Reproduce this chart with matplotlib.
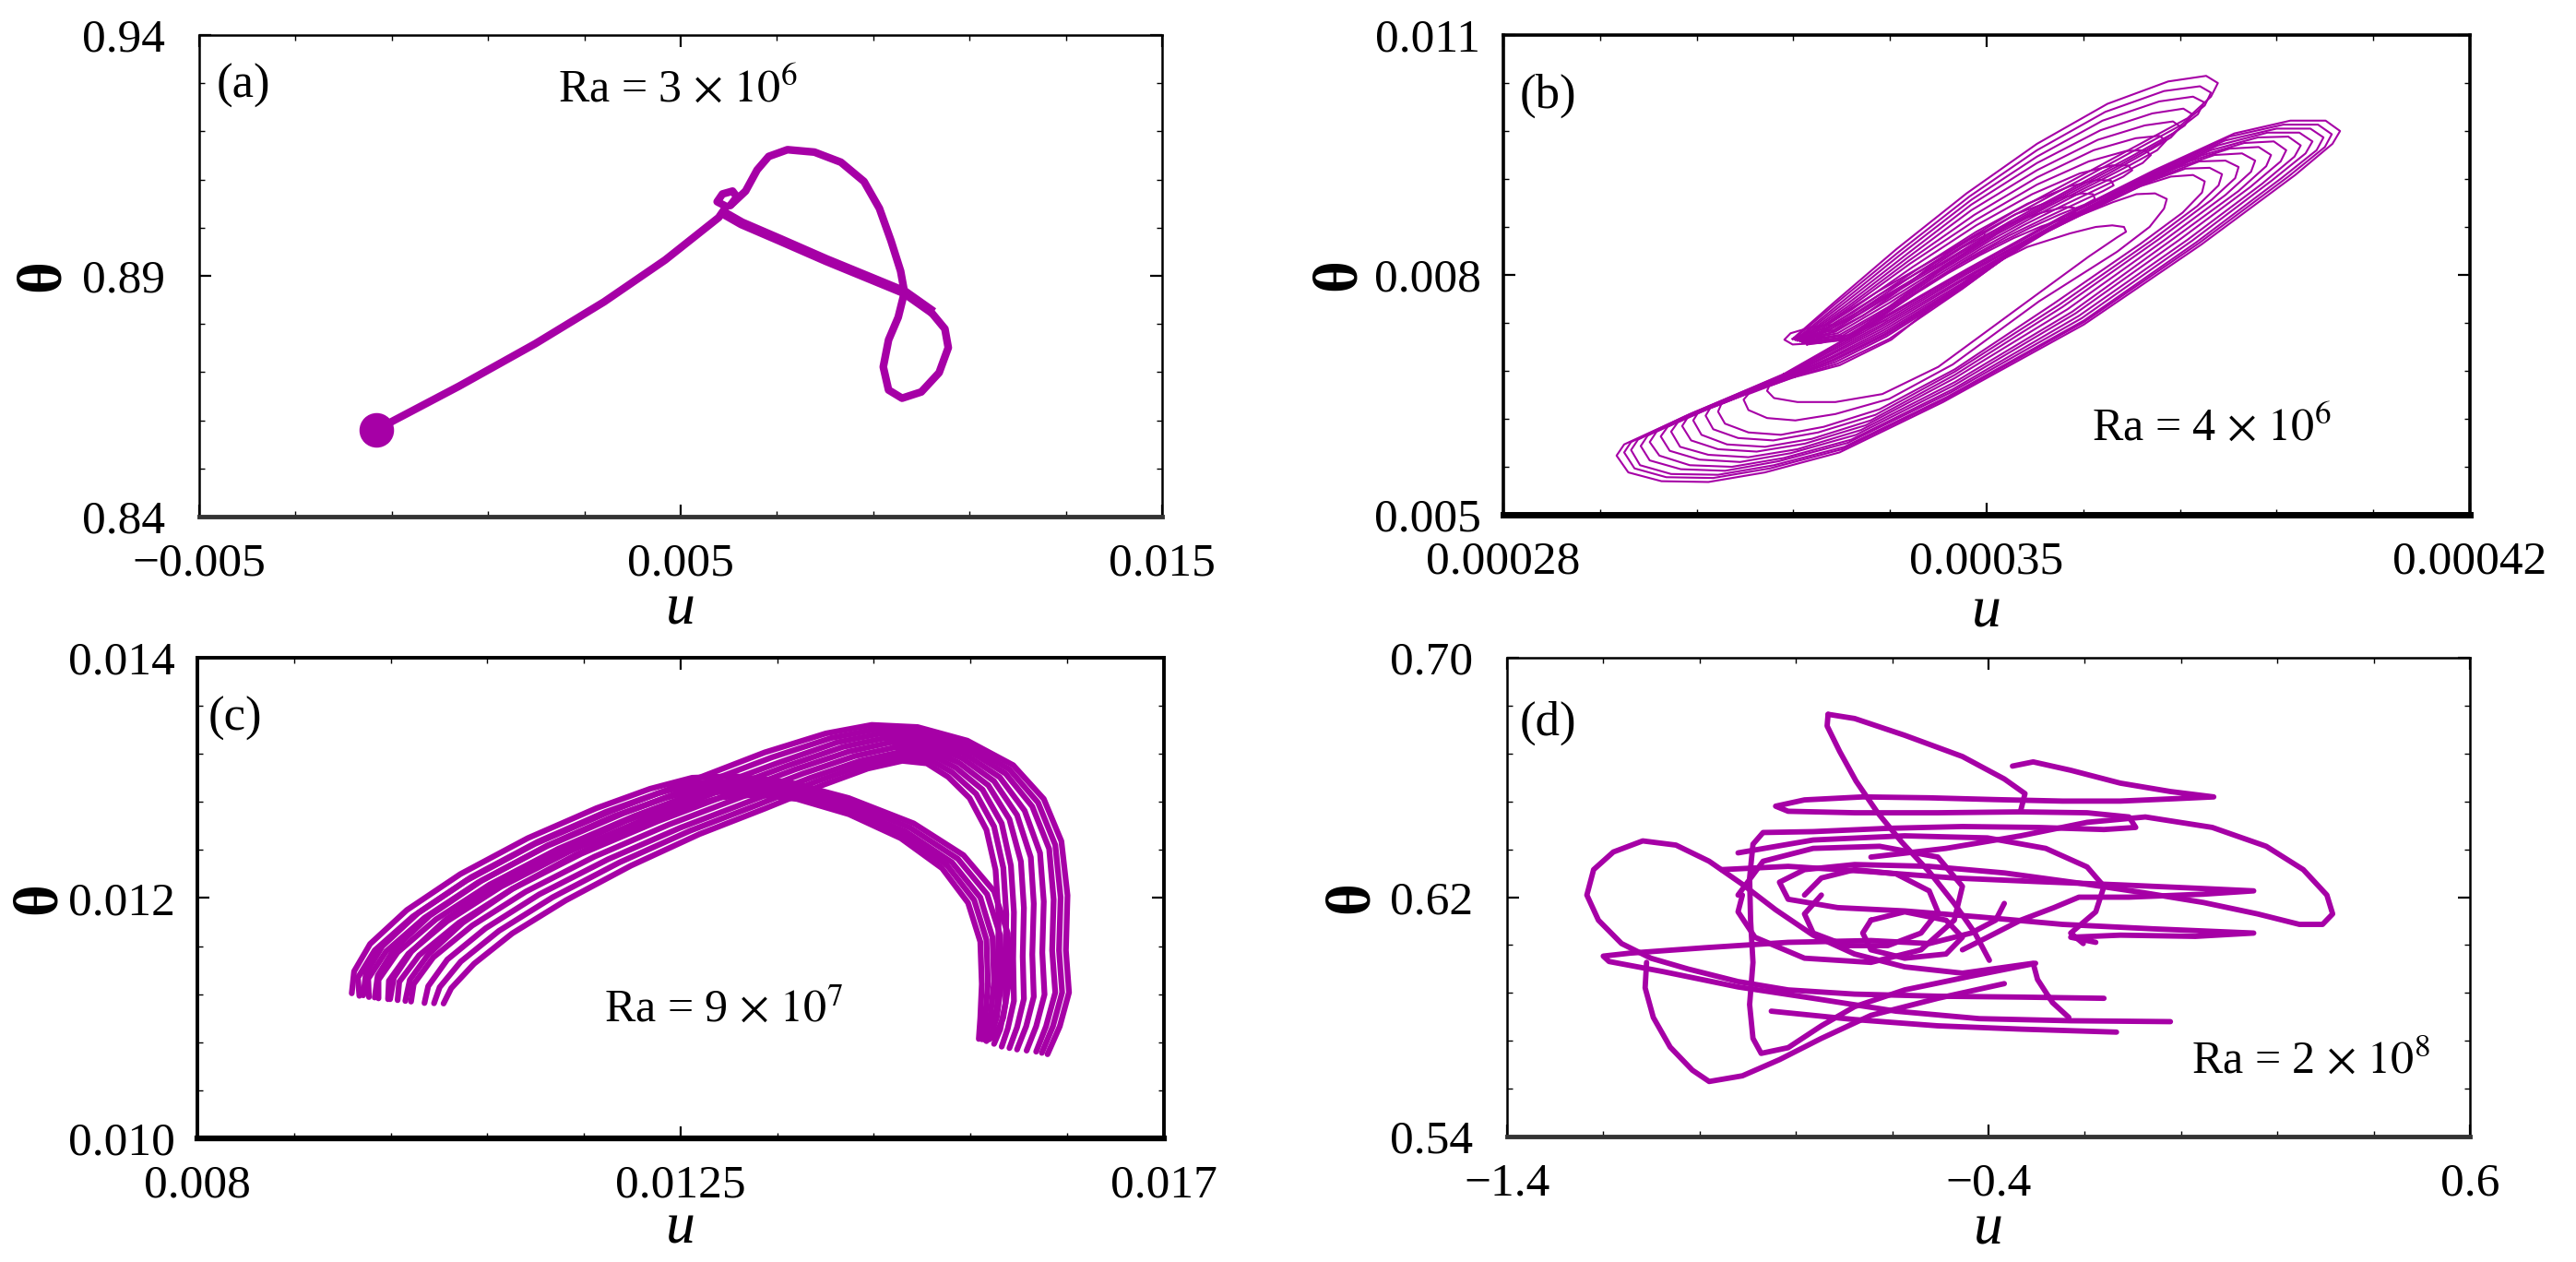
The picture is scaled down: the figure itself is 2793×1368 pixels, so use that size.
import numpy as np
import matplotlib.pyplot as plt
from matplotlib.ticker import FixedLocator

plt.rcParams['font.family'] = 'Liberation Serif'
plt.rcParams['mathtext.fontset'] = 'stix'

PURPLE = '#a600a6'

# ---------------------------
# data
# ---------------------------

# (a) Ra = 3e6, u in 1e-3
a_u = [-1.32, -0.95, 0.40, 1.98, 3.41, 4.68, 5.79, 5.95, 5.76, 5.87, 6.08, 6.17, 6.03, 6.35,
       6.59, 6.83, 7.22, 7.78, 8.33, 8.81, 9.13, 9.37, 9.57, 9.65, 9.52, 9.32, 9.21, 9.32,
       9.60, 10.00, 10.37, 10.56, 10.49, 10.16, 9.65, 8.97, 8.02, 7.06, 6.27, 5.92]
a_theta = [0.8580, 0.8600, 0.8671, 0.8759, 0.8846, 0.8933, 0.9021, 0.9044, 0.9054, 0.9070,
           0.9076, 0.9064, 0.9046, 0.9076, 0.9120, 0.9148, 0.9162, 0.9157, 0.9136, 0.9096,
           0.9040, 0.8973, 0.8910, 0.8866, 0.8814, 0.8767, 0.8711, 0.8663, 0.8646, 0.8659,
           0.8699, 0.8751, 0.8790, 0.8830, 0.8866, 0.8894, 0.8933, 0.8975, 0.9009, 0.9029]

# (b) Ra = 4e6, u in 1e-5, theta in 1e-3
# loops turning in the right lobe (outer to inner)
b_r_u = [
    [32.06, 30.63, 29.75, 29.64, 29.81, 30.29, 30.97, 31.79, 32.87, 34.37, 36.41, 38.11, 39.47, 40.01, 40.12, 39.91, 39.40, 38.59, 37.43, 36.07, 34.71, 33.42, 32.67, 32.06],
    [32.08, 30.70, 29.85, 29.75, 29.90, 30.36, 31.04, 31.86, 32.91, 34.41, 36.41, 38.08, 39.37, 39.90, 40.00, 39.80, 39.30, 38.52, 37.40, 36.07, 34.71, 33.42, 32.67, 32.08],
    [32.09, 30.77, 29.95, 29.85, 29.98, 30.43, 31.11, 31.92, 32.94, 34.44, 36.41, 38.04, 39.27, 39.78, 39.88, 39.69, 39.20, 38.45, 37.36, 36.07, 34.71, 33.42, 32.67, 32.09],
    [32.11, 30.84, 30.09, 29.99, 30.12, 30.57, 31.21, 31.99, 32.99, 34.48, 36.38, 37.98, 39.13, 39.62, 39.72, 39.53, 39.07, 38.35, 37.30, 36.04, 34.71, 33.44, 32.69, 32.11],
    [32.13, 30.90, 30.22, 30.12, 30.26, 30.70, 31.31, 32.06, 33.04, 34.51, 36.34, 37.91, 38.99, 39.46, 39.55, 39.37, 38.93, 38.25, 37.23, 36.00, 34.71, 33.45, 32.70, 32.13],
    [32.14, 30.97, 30.38, 30.28, 30.41, 30.84, 31.43, 32.16, 33.11, 34.53, 36.29, 37.81, 38.82, 39.26, 39.34, 39.16, 38.73, 38.10, 37.13, 35.95, 34.71, 33.47, 32.72, 32.14],
    [32.14, 31.04, 30.53, 30.43, 30.56, 30.97, 31.55, 32.26, 33.18, 34.54, 36.24, 37.70, 38.65, 39.05, 39.12, 38.94, 38.52, 37.94, 37.02, 35.90, 34.71, 33.49, 32.74, 32.14],
    [32.15, 31.11, 30.68, 30.59, 30.72, 31.11, 31.67, 32.37, 33.25, 34.54, 36.17, 37.60, 38.46, 38.83, 38.89, 38.70, 38.30, 37.76, 36.92, 35.83, 34.71, 33.51, 32.76, 32.15],
    [32.16, 31.17, 30.83, 30.75, 30.87, 31.24, 31.79, 32.47, 33.32, 34.54, 36.10, 37.50, 38.26, 38.60, 38.65, 38.46, 38.08, 37.57, 36.82, 35.76, 34.70, 33.52, 32.77, 32.16],
    [32.17, 31.24, 31.00, 30.93, 31.04, 31.40, 31.91, 32.56, 33.39, 34.54, 36.04, 37.37, 38.05, 38.36, 38.41, 38.23, 37.88, 37.40, 36.72, 35.70, 34.69, 33.54, 32.79, 32.17],
    [32.18, 31.31, 31.16, 31.11, 31.21, 31.55, 32.02, 32.64, 33.45, 34.54, 35.97, 37.23, 37.84, 38.12, 38.16, 37.99, 37.67, 37.23, 36.61, 35.63, 34.68, 33.55, 32.81, 32.18],
    [32.19, 31.55, 31.48, 31.55, 31.82, 32.23, 32.81, 33.59, 34.51, 35.76, 36.89, 37.36, 37.57, 37.61, 37.44, 37.17, 36.83, 36.34, 35.53, 34.64, 33.59, 32.84, 32.19],
    [32.21, 31.85, 31.82, 31.92, 32.26, 32.81, 33.49, 34.30, 35.53, 36.48, 36.89, 37.02, 36.99, 36.82, 36.58, 36.21, 35.59, 34.85, 34.23, 33.62, 32.87, 32.21],
]
b_r_theta = [
    [6.76, 6.23, 5.88, 5.74, 5.53, 5.42, 5.41, 5.53, 5.78, 6.41, 7.38, 8.38, 9.25, 9.64, 9.80, 9.93, 9.93, 9.77, 9.31, 8.72, 8.07, 7.43, 7.06, 6.76],
    [6.76, 6.26, 5.91, 5.78, 5.58, 5.47, 5.46, 5.58, 5.82, 6.45, 7.41, 8.40, 9.23, 9.60, 9.76, 9.88, 9.88, 9.73, 9.28, 8.70, 8.05, 7.41, 7.05, 6.76],
    [6.75, 6.28, 5.94, 5.81, 5.62, 5.51, 5.50, 5.62, 5.85, 6.48, 7.43, 8.41, 9.21, 9.56, 9.72, 9.83, 9.83, 9.68, 9.25, 8.67, 8.03, 7.38, 7.03, 6.75],
    [6.75, 6.30, 5.99, 5.86, 5.68, 5.57, 5.55, 5.67, 5.90, 6.53, 7.46, 8.43, 9.18, 9.52, 9.67, 9.78, 9.78, 9.62, 9.21, 8.64, 8.01, 7.36, 7.02, 6.75],
    [6.75, 6.31, 6.04, 5.91, 5.74, 5.62, 5.60, 5.71, 5.94, 6.57, 7.49, 8.44, 9.14, 9.48, 9.62, 9.73, 9.72, 9.56, 9.17, 8.61, 7.98, 7.34, 7.00, 6.75],
    [6.75, 6.33, 6.10, 5.98, 5.80, 5.69, 5.66, 5.77, 6.00, 6.62, 7.52, 8.45, 9.10, 9.42, 9.56, 9.67, 9.65, 9.49, 9.12, 8.58, 7.96, 7.32, 6.99, 6.75],
    [6.74, 6.35, 6.16, 6.04, 5.85, 5.75, 5.72, 5.82, 6.06, 6.66, 7.54, 8.45, 9.05, 9.36, 9.50, 9.60, 9.58, 9.42, 9.07, 8.55, 7.93, 7.30, 6.97, 6.74],
    [6.74, 6.37, 6.23, 6.11, 5.93, 5.82, 5.79, 5.89, 6.12, 6.71, 7.57, 8.45, 9.00, 9.29, 9.43, 9.52, 9.50, 9.34, 9.02, 8.53, 7.91, 7.28, 6.96, 6.74],
    [6.73, 6.39, 6.29, 6.18, 6.00, 5.88, 5.85, 5.95, 6.18, 6.75, 7.60, 8.45, 8.94, 9.21, 9.35, 9.43, 9.42, 9.25, 8.96, 8.50, 7.89, 7.26, 6.94, 6.73],
    [6.73, 6.42, 6.34, 6.24, 6.07, 5.96, 5.93, 6.03, 6.25, 6.79, 7.62, 8.42, 8.86, 9.12, 9.26, 9.34, 9.33, 9.18, 8.91, 8.47, 7.87, 7.25, 6.93, 6.73],
    [6.73, 6.44, 6.39, 6.29, 6.14, 6.03, 6.00, 6.10, 6.32, 6.82, 7.64, 8.39, 8.78, 9.03, 9.17, 9.25, 9.23, 9.11, 8.85, 8.44, 7.85, 7.23, 6.91, 6.73],
    [6.72, 6.51, 6.44, 6.31, 6.21, 6.18, 6.26, 6.45, 6.88, 7.67, 8.29, 8.60, 8.83, 8.95, 9.02, 9.01, 8.91, 8.74, 8.39, 7.82, 7.20, 6.89, 6.72],
    [6.72, 6.61, 6.55, 6.46, 6.41, 6.41, 6.51, 6.85, 7.63, 8.23, 8.47, 8.54, 8.60, 8.62, 8.60, 8.52, 8.35, 8.03, 7.61, 7.19, 6.87, 6.72],
]
# tongues turning in the upper-left lobe, plus the small ear on the left
b_l_u = [
    [32.19, 32.81, 33.69, 34.71, 35.73, 36.75, 37.63, 38.18, 38.35, 38.25, 37.91, 37.29, 36.41, 35.39, 34.37, 33.42, 32.67, 32.19],
    [32.21, 32.84, 33.73, 34.75, 35.73, 36.72, 37.57, 38.09, 38.25, 38.16, 37.81, 37.19, 36.34, 35.36, 34.37, 33.46, 32.71, 32.21],
    [32.23, 32.87, 33.76, 34.78, 35.73, 36.68, 37.50, 37.99, 38.15, 38.06, 37.70, 37.09, 36.27, 35.32, 34.37, 33.49, 32.74, 32.23],
    [32.25, 32.91, 33.80, 34.78, 35.73, 36.65, 37.40, 37.85, 37.98, 37.87, 37.50, 36.92, 36.17, 35.29, 34.37, 33.52, 32.78, 32.25],
    [32.26, 32.94, 33.83, 34.78, 35.73, 36.61, 37.29, 37.70, 37.81, 37.67, 37.29, 36.75, 36.07, 35.25, 34.37, 33.55, 32.81, 32.26],
    [32.28, 32.98, 33.86, 34.82, 35.73, 36.55, 37.16, 37.50, 37.60, 37.47, 37.09, 36.55, 35.90, 35.15, 34.34, 33.59, 32.84, 32.28],
    [32.30, 33.01, 33.89, 34.85, 35.73, 36.48, 37.02, 37.29, 37.38, 37.26, 36.89, 36.34, 35.73, 35.05, 34.30, 33.62, 32.87, 32.30],
    [32.32, 33.05, 33.93, 34.85, 35.66, 36.35, 36.82, 37.05, 37.11, 36.98, 36.62, 36.11, 35.53, 34.92, 34.24, 33.62, 32.91, 32.32],
    [32.33, 33.08, 33.96, 34.85, 35.59, 36.21, 36.61, 36.80, 36.84, 36.69, 36.34, 35.87, 35.32, 34.78, 34.17, 33.62, 32.94, 32.33],
    [32.35, 33.12, 33.96, 34.75, 35.42, 36.01, 36.38, 36.54, 36.57, 36.42, 36.07, 35.63, 35.12, 34.61, 34.07, 33.59, 32.98, 32.35],
    [32.36, 33.15, 33.96, 34.64, 35.25, 35.80, 36.14, 36.27, 36.29, 36.15, 35.80, 35.39, 34.91, 34.44, 33.96, 33.55, 33.01, 32.36],
    [32.40, 33.21, 33.69, 34.10, 34.44, 34.71, 34.86, 34.95, 34.98, 34.88, 34.64, 34.37, 34.10, 33.83, 33.55, 33.28, 32.94, 32.40],
    [32.81, 32.47, 32.16, 32.07, 32.19, 32.60, 33.15, 33.55],
]
b_l_theta = [
    [7.20, 7.67, 8.32, 9.02, 9.64, 10.14, 10.42, 10.49, 10.40, 10.23, 9.96, 9.67, 9.26, 8.79, 8.26, 7.79, 7.38, 7.20],
    [7.20, 7.66, 8.29, 8.98, 9.56, 10.04, 10.30, 10.36, 10.28, 10.12, 9.87, 9.58, 9.18, 8.73, 8.21, 7.76, 7.35, 7.20],
    [7.19, 7.64, 8.26, 8.94, 9.48, 9.93, 10.17, 10.23, 10.16, 10.01, 9.77, 9.48, 9.10, 8.66, 8.16, 7.72, 7.32, 7.19],
    [7.19, 7.63, 8.23, 8.88, 9.40, 9.81, 10.02, 10.08, 10.01, 9.87, 9.65, 9.37, 9.03, 8.62, 8.14, 7.70, 7.31, 7.19],
    [7.18, 7.61, 8.20, 8.81, 9.31, 9.69, 9.87, 9.92, 9.85, 9.72, 9.52, 9.26, 8.96, 8.58, 8.11, 7.67, 7.29, 7.18],
    [7.18, 7.60, 8.17, 8.75, 9.22, 9.56, 9.71, 9.74, 9.68, 9.56, 9.38, 9.14, 8.86, 8.51, 8.07, 7.65, 7.27, 7.18],
    [7.17, 7.59, 8.14, 8.69, 9.13, 9.42, 9.55, 9.56, 9.50, 9.40, 9.24, 9.02, 8.75, 8.43, 8.03, 7.62, 7.25, 7.17],
    [7.17, 7.57, 8.10, 8.62, 9.01, 9.27, 9.37, 9.37, 9.31, 9.23, 9.08, 8.87, 8.62, 8.33, 7.97, 7.60, 7.24, 7.17],
    [7.16, 7.54, 8.05, 8.54, 8.89, 9.11, 9.19, 9.18, 9.12, 9.05, 8.91, 8.72, 8.49, 8.23, 7.90, 7.58, 7.22, 7.16],
    [7.16, 7.53, 8.01, 8.44, 8.76, 8.95, 9.02, 9.01, 8.95, 8.88, 8.76, 8.59, 8.37, 8.13, 7.83, 7.55, 7.21, 7.16],
    [7.15, 7.51, 7.96, 8.34, 8.62, 8.78, 8.85, 8.84, 8.78, 8.71, 8.61, 8.46, 8.25, 8.02, 7.76, 7.52, 7.19, 7.15],
    [7.13, 7.49, 7.78, 8.05, 8.28, 8.43, 8.51, 8.54, 8.49, 8.40, 8.25, 8.11, 7.93, 7.76, 7.58, 7.40, 7.19, 7.13],
    [7.38, 7.35, 7.27, 7.19, 7.13, 7.15, 7.29, 7.44],
]

# (c) Ra = 9e7, u and theta in 1e-3 (tall arches, then lower arches)
c_u = [
    [9.509, 9.495, 9.652, 10.008, 10.506, 11.147, 11.859, 12.571, 13.283, 13.853, 14.280, 14.707, 15.170, 15.597, 15.882, 16.046, 16.103, 16.088, 16.117, 16.031, 15.917],
    [9.598, 9.591, 9.759, 10.115, 10.613, 11.254, 11.966, 12.678, 13.354, 13.906, 14.316, 14.725, 15.159, 15.562, 15.829, 15.989, 16.039, 16.024, 16.053, 15.967, 15.864],
    [9.687, 9.687, 9.865, 10.221, 10.720, 11.361, 12.073, 12.785, 13.425, 13.959, 14.351, 14.743, 15.148, 15.526, 15.775, 15.932, 15.974, 15.960, 15.989, 15.903, 15.811],
    [9.776, 9.784, 9.965, 10.328, 10.827, 11.468, 12.180, 12.874, 13.497, 14.013, 14.405, 14.779, 15.134, 15.473, 15.704, 15.847, 15.882, 15.868, 15.889, 15.811, 15.722],
    [9.865, 9.880, 10.065, 10.435, 10.933, 11.574, 12.286, 12.963, 13.568, 14.066, 14.458, 14.814, 15.120, 15.419, 15.633, 15.761, 15.789, 15.775, 15.789, 15.718, 15.633],
    [9.990, 10.015, 10.197, 10.560, 11.058, 11.699, 12.393, 13.052, 13.639, 14.120, 14.494, 14.814, 15.092, 15.366, 15.562, 15.669, 15.697, 15.686, 15.697, 15.633, 15.562],
    [10.115, 10.150, 10.328, 10.684, 11.183, 11.823, 12.500, 13.141, 13.710, 14.173, 14.529, 14.814, 15.063, 15.312, 15.490, 15.576, 15.604, 15.597, 15.604, 15.547, 15.490],
    [10.204, 10.257, 10.453, 10.809, 11.308, 11.930, 12.589, 13.212, 13.764, 14.209, 14.547, 14.804, 15.028, 15.252, 15.419, 15.505, 15.533, 15.526, 15.526, 15.476, 15.419],
    [10.293, 10.364, 10.577, 10.933, 11.432, 12.037, 12.678, 13.283, 13.817, 14.244, 14.565, 14.793, 14.992, 15.191, 15.348, 15.433, 15.462, 15.455, 15.448, 15.405, 15.348],
    [9.438, 9.460, 9.609, 9.951, 10.449, 11.076, 11.717, 12.215, 12.607, 12.998, 13.497, 14.066, 14.671, 15.134, 15.419, 15.547, 15.561, 15.504, 15.419],
    [9.545, 9.570, 9.723, 10.058, 10.549, 11.169, 11.802, 12.286, 12.653, 13.027, 13.504, 14.059, 14.636, 15.081, 15.355, 15.476, 15.490, 15.444, 15.377],
    [9.652, 9.680, 9.837, 10.165, 10.649, 11.261, 11.887, 12.357, 12.699, 13.055, 13.511, 14.052, 14.600, 15.027, 15.291, 15.405, 15.419, 15.383, 15.334],
    [9.795, 9.830, 9.994, 10.318, 10.791, 11.389, 11.998, 12.457, 12.792, 13.134, 13.547, 14.059, 14.575, 14.981, 15.234, 15.348, 15.362, 15.337, 15.306],
    [9.937, 9.979, 10.150, 10.471, 10.933, 11.517, 12.108, 12.557, 12.884, 13.212, 13.582, 14.066, 14.550, 14.935, 15.177, 15.291, 15.305, 15.291, 15.277],
]
c_theta = [
    [11.186, 11.337, 11.565, 11.847, 12.146, 12.452, 12.726, 12.966, 13.212, 13.370, 13.441, 13.423, 13.310, 13.106, 12.825, 12.473, 12.023, 11.565, 11.214, 10.932, 10.700],
    [11.176, 11.328, 11.557, 11.835, 12.129, 12.431, 12.705, 12.943, 13.172, 13.333, 13.404, 13.388, 13.279, 13.071, 12.794, 12.442, 12.006, 11.565, 11.214, 10.932, 10.711],
    [11.165, 11.319, 11.548, 11.822, 12.111, 12.410, 12.684, 12.920, 13.131, 13.296, 13.367, 13.353, 13.247, 13.036, 12.762, 12.410, 11.988, 11.565, 11.214, 10.932, 10.721],
    [11.158, 11.311, 11.536, 11.808, 12.094, 12.389, 12.661, 12.894, 13.101, 13.258, 13.332, 13.313, 13.207, 13.005, 12.727, 12.375, 11.971, 11.548, 11.197, 10.932, 10.730],
    [11.150, 11.302, 11.523, 11.794, 12.076, 12.368, 12.638, 12.867, 13.071, 13.219, 13.296, 13.272, 13.166, 12.973, 12.691, 12.339, 11.953, 11.530, 11.179, 10.932, 10.739],
    [11.138, 11.284, 11.506, 11.771, 12.053, 12.345, 12.612, 12.836, 13.036, 13.181, 13.254, 13.237, 13.126, 12.938, 12.656, 12.304, 11.918, 11.513, 11.161, 10.924, 10.751],
    [11.126, 11.266, 11.488, 11.748, 12.030, 12.322, 12.586, 12.804, 13.001, 13.142, 13.212, 13.201, 13.085, 12.902, 12.621, 12.269, 11.882, 11.495, 11.143, 10.915, 10.763],
    [11.124, 11.258, 11.471, 11.727, 12.006, 12.296, 12.560, 12.774, 12.970, 13.110, 13.177, 13.161, 13.047, 12.867, 12.595, 12.252, 11.865, 11.478, 11.126, 10.906, 10.786],
    [11.122, 11.249, 11.453, 11.706, 11.981, 12.269, 12.533, 12.744, 12.938, 13.078, 13.142, 13.121, 13.008, 12.832, 12.568, 12.234, 11.847, 11.460, 11.108, 10.897, 10.809],
    [11.207, 11.390, 11.618, 11.900, 12.199, 12.498, 12.748, 12.909, 13.001, 13.015, 12.966, 12.832, 12.621, 12.357, 12.057, 11.706, 11.319, 11.003, 10.827],
    [11.190, 11.373, 11.599, 11.877, 12.173, 12.468, 12.716, 12.871, 12.959, 12.973, 12.926, 12.794, 12.586, 12.327, 12.031, 11.689, 11.311, 11.003, 10.824],
    [11.172, 11.355, 11.580, 11.854, 12.146, 12.438, 12.684, 12.832, 12.916, 12.931, 12.885, 12.755, 12.551, 12.297, 12.005, 11.671, 11.302, 11.003, 10.820],
    [11.158, 11.337, 11.555, 11.824, 12.111, 12.398, 12.644, 12.794, 12.878, 12.896, 12.855, 12.727, 12.525, 12.273, 11.983, 11.654, 11.293, 11.003, 10.824],
    [11.143, 11.319, 11.530, 11.794, 12.076, 12.357, 12.603, 12.755, 12.839, 12.860, 12.825, 12.698, 12.498, 12.248, 11.960, 11.636, 11.284, 11.003, 10.827],
]

# (d) Ra = 2e8, pieces of the trajectory
d_u = [
    [-0.022, -0.229, -0.419, -0.592, -0.764, -0.920, -1.075, -1.188, -1.200, -1.144, -0.989, -0.816, -0.644, -0.523, -0.436, -0.385, -0.367],
    [-0.160, -0.333, -0.505, -0.678, -0.816, -0.920, -1.024, -1.101, -1.162, -1.210, -1.234, -1.220, -1.179, -1.118, -1.049, -0.980, -0.911, -0.842, -0.764, -0.678, -0.574, -0.454, -0.307, -0.298, -0.267, -0.233],
    [-0.733, -0.678, -0.574, -0.454, -0.367, -0.324, -0.333],
    [-0.733, -0.735, -0.709, -0.675, -0.630, -0.580, -0.523, -0.471, -0.428, -0.398],
    [-0.350, -0.307, -0.229, -0.126, -0.022, 0.068, -0.013, -0.126, -0.246, -0.385, -0.523, -0.661, -0.782, -0.842, -0.816, -0.678, -0.505, -0.333, -0.195, -0.108,
     -0.094, -0.160, -0.298, -0.454, -0.609, -0.764, -0.868, -0.889, -0.896, -0.894, -0.889, -0.896, -0.889, -0.872, -0.816, -0.747, -0.678, -0.574, -0.436, -0.302],
    [-0.644, -0.488, -0.333, -0.195, -0.074, 0.065, 0.177, 0.254, 0.303, 0.315, 0.294, 0.246, 0.159, 0.047, -0.074, -0.212, -0.367, -0.523, -0.678, -0.782,
     -0.834, -0.816, -0.713, -0.574, -0.419, -0.246, -0.056, 0.151, 0.030, -0.126, -0.229, -0.177],
    [-0.954, -0.816, -0.644, -0.471, -0.298, -0.126, 0.030, 0.151, 0.047, -0.108, -0.212, -0.264, -0.333, -0.402, -0.454],
    [-1.110, -1.113, -1.096, -1.061, -1.015, -0.980, -0.911, -0.834, -0.747, -0.644, -0.505, -0.367],
    [-0.851, -0.678, -0.505, -0.333, -0.134],
    [-0.782, -0.747, -0.678, -0.592, -0.523, -0.505, -0.540, -0.609, -0.695, -0.764, -0.782, -0.747],
    [-0.644, -0.574, -0.488, -0.454, -0.488, -0.574, -0.644, -0.661, -0.644],
    [-0.920, -0.868, -0.764, -0.626, -0.505, -0.454, -0.471, -0.540, -0.644, -0.782, -0.885, -0.920, -0.911],
    [-0.920, -0.764, -0.574, -0.402, -0.281, -0.195, -0.160, -0.177, -0.229, -0.203],
]
d_theta = [
    [0.5784, 0.5787, 0.5794, 0.5819, 0.5862, 0.5900, 0.5951, 0.5985, 0.6003, 0.6013, 0.6031, 0.6049, 0.6055, 0.6045, 0.6080, 0.6123, 0.6179],
    [0.5862, 0.5866, 0.5869, 0.5876, 0.5890, 0.5918, 0.5960, 0.5996, 0.6045, 0.6123, 0.6207, 0.6292, 0.6351, 0.6388, 0.6374, 0.6320, 0.6243, 0.6158, 0.6073, 0.6010, 0.5967, 0.5946, 0.5979, 0.5925, 0.5848, 0.5798],
    [0.6811, 0.6797, 0.6741, 0.6670, 0.6595, 0.6546, 0.6489],
    [0.6811, 0.6772, 0.6687, 0.6588, 0.6482, 0.6384, 0.6285, 0.6179, 0.6080, 0.5989],
    [0.6638, 0.6652, 0.6624, 0.6581, 0.6553, 0.6535, 0.6529, 0.6521, 0.6521, 0.6526, 0.6532, 0.6535, 0.6525, 0.6504, 0.6487, 0.6482, 0.6482, 0.6485, 0.6482, 0.6468,
     0.6433, 0.6426, 0.6433, 0.6436, 0.6430, 0.6419, 0.6416, 0.6377, 0.6264, 0.6123, 0.5982, 0.5841, 0.5728, 0.5678, 0.5697, 0.5770, 0.5834, 0.5890, 0.5936, 0.5979],
    [0.6334, 0.6363, 0.6405, 0.6450, 0.6468, 0.6433, 0.6370, 0.6292, 0.6207, 0.6144, 0.6109, 0.6109, 0.6144, 0.6182, 0.6214, 0.6247, 0.6281, 0.6303, 0.6309, 0.6292,
     0.6250, 0.6193, 0.6165, 0.6154, 0.6134, 0.6109, 0.6094, 0.6080, 0.6069, 0.6073, 0.6066, 0.6049],
    [0.6292, 0.6303, 0.6285, 0.6264, 0.6252, 0.6241, 0.6230, 0.6221, 0.6210, 0.6200, 0.6200, 0.6165, 0.6123, 0.6066, 0.6024],
    [0.5982, 0.5897, 0.5798, 0.5699, 0.5622, 0.5584, 0.5603, 0.5657, 0.5728, 0.5805, 0.5862, 0.5911],
    [0.5819, 0.5791, 0.5770, 0.5759, 0.5749],
    [0.6207, 0.6264, 0.6292, 0.6278, 0.6221, 0.6151, 0.6080, 0.6038, 0.6038, 0.6080, 0.6144, 0.6207],
    [0.6123, 0.6151, 0.6123, 0.6066, 0.6010, 0.5996, 0.6024, 0.6080, 0.6123],
    [0.6207, 0.6320, 0.6363, 0.6370, 0.6334, 0.6236, 0.6123, 0.6024, 0.5982, 0.5996, 0.6066, 0.6151, 0.6207],
    [0.6348, 0.6391, 0.6405, 0.6398, 0.6363, 0.6301, 0.6236, 0.6151, 0.6080, 0.6045],
]

# axis limits and tick labels
a_xlim, a_ylim = (-0.005, 0.015), (0.84, 0.94)
b_xlim, b_ylim = (0.00028, 0.00042), (0.005, 0.011)
c_xlim, c_ylim = (0.008, 0.017), (0.010, 0.014)
d_xlim, d_ylim = (-1.4, 0.6), (0.54, 0.70)
a_xlabels, a_ylabels = ['\u22120.005', '0.005', '0.015'], ['0.84', '0.89', '0.94']
b_xlabels, b_ylabels = ['0.00028', '0.00035', '0.00042'], ['0.005', '0.008', '0.011']
c_xlabels, c_ylabels = ['0.008', '0.0125', '0.017'], ['0.010', '0.012', '0.014']
d_xlabels, d_ylabels = ['\u22121.4', '\u22120.4', '0.6'], ['0.54', '0.62', '0.70']


def style_axes(ax, xlim, ylim, xlabels, ylabels, spine_w, bottom_w, bottom_col):
    ax.set_xlim(xlim)
    ax.set_ylim(ylim)
    ax.set_xticks(np.linspace(xlim[0], xlim[1], 3))
    ax.set_yticks(np.linspace(ylim[0], ylim[1], 3))
    ax.set_xticklabels(xlabels, fontsize=37)
    ax.set_yticklabels(ylabels, fontsize=37)
    ax.xaxis.set_minor_locator(FixedLocator(np.linspace(xlim[0], xlim[1], 11)))
    ax.yaxis.set_minor_locator(FixedLocator(np.linspace(ylim[0], ylim[1], 11)))
    ax.tick_params(which='both', direction='in', top=True, right=True)
    ax.tick_params(which='major', length=9.5, width=1.6)
    ax.tick_params(which='minor', length=4.5, width=1.0)
    ax.tick_params(axis='x', pad=20)
    ax.tick_params(axis='y', pad=59)
    for lbl in ax.get_yticklabels():
        lbl.set_horizontalalignment('center')
    for side in ['left', 'right', 'top']:
        ax.spines[side].set_linewidth(spine_w)
    ax.spines['bottom'].set_linewidth(bottom_w)
    ax.spines['bottom'].set_color(bottom_col)
    ax.set_xlabel('u', fontsize=46, fontstyle='italic', va='center')
    ax.set_ylabel('\u03b8', fontsize=48, fontweight='bold', va='center')


fig = plt.figure(figsize=(27.93, 13.68), dpi=100)
ax_a = fig.add_axes([0.0773, 0.5906, 0.3738, 0.3816])
ax_b = fig.add_axes([0.5836, 0.5921, 0.3752, 0.3801])
ax_c = fig.add_axes([0.0766, 0.0980, 0.3752, 0.3808])
ax_d = fig.add_axes([0.5850, 0.0994, 0.3738, 0.3794])

# (a)
au = np.array(a_u) * 1e-3
ax_a.plot(au, a_theta, color=PURPLE, lw=6, solid_joinstyle='round', solid_capstyle='round')
ax_a.plot(au[33:], a_theta[33:], color=PURPLE, lw=8, solid_joinstyle='round')
ax_a.plot(au[0], a_theta[0], 'o', color=PURPLE, markersize=26)

# (b)
for uu, tt in zip(b_r_u + b_l_u, b_r_theta + b_l_theta):
    ax_b.plot(np.array(uu) * 1e-5, np.array(tt) * 1e-3, color=PURPLE, lw=1.5,
              solid_joinstyle='round')

# (c)
for uu, tt in zip(c_u, c_theta):
    ax_c.plot(np.array(uu) * 1e-3, np.array(tt) * 1e-3, color=PURPLE, lw=4.5,
              solid_joinstyle='round', solid_capstyle='round')

# (d)
for uu, tt in zip(d_u, d_theta):
    ax_d.plot(uu, tt, color=PURPLE, lw=4.2, solid_joinstyle='round', solid_capstyle='round')

style_axes(ax_a, a_xlim, a_ylim, a_xlabels, a_ylabels, 1.8, 3.5, '#333333')
style_axes(ax_b, b_xlim, b_ylim, b_xlabels, b_ylabels, 2.6, 5.0, 'black')
style_axes(ax_c, c_xlim, c_ylim, c_xlabels, c_ylabels, 2.8, 4.5, 'black')
style_axes(ax_d, d_xlim, d_ylim, d_xlabels, d_ylabels, 1.8, 3.5, '#333333')

ax_a.xaxis.set_label_coords(0.5, -0.195)
ax_b.xaxis.set_label_coords(0.5, -0.205)
ax_c.xaxis.set_label_coords(0.5, -0.19)
ax_d.xaxis.set_label_coords(0.5, -0.195)
ax_a.yaxis.set_label_coords(-0.162, 0.5)
ax_b.yaxis.set_label_coords(-0.170, 0.5)
ax_c.yaxis.set_label_coords(-0.163, 0.5)
ax_d.yaxis.set_label_coords(-0.161, 0.5)

# panel letters and Ra values
ax_a.text(0.018, 0.94, '(a)', transform=ax_a.transAxes, fontsize=38, va='top')
ax_b.text(0.017, 0.92, '(b)', transform=ax_b.transAxes, fontsize=38, va='top')
ax_c.text(0.011, 0.92, '(c)', transform=ax_c.transAxes, fontsize=38, va='top')
ax_d.text(0.013, 0.91, '(d)', transform=ax_d.transAxes, fontsize=38, va='top')

ax_a.text(0.373, 0.862, r'Ra = 3 $\times$ $10^{6}$', transform=ax_a.transAxes, fontsize=36, va='baseline')
ax_b.text(0.609, 0.156, r'Ra = 4 $\times$ $10^{6}$', transform=ax_b.transAxes, fontsize=36, va='baseline')
ax_c.text(0.421, 0.242, r'Ra = 9 $\times$ $10^{7}$', transform=ax_c.transAxes, fontsize=36, va='baseline')
ax_d.text(0.711, 0.133, r'Ra = 2 $\times$ $10^{8}$', transform=ax_d.transAxes, fontsize=36, va='baseline')

fig.savefig('out.png', dpi=100)
